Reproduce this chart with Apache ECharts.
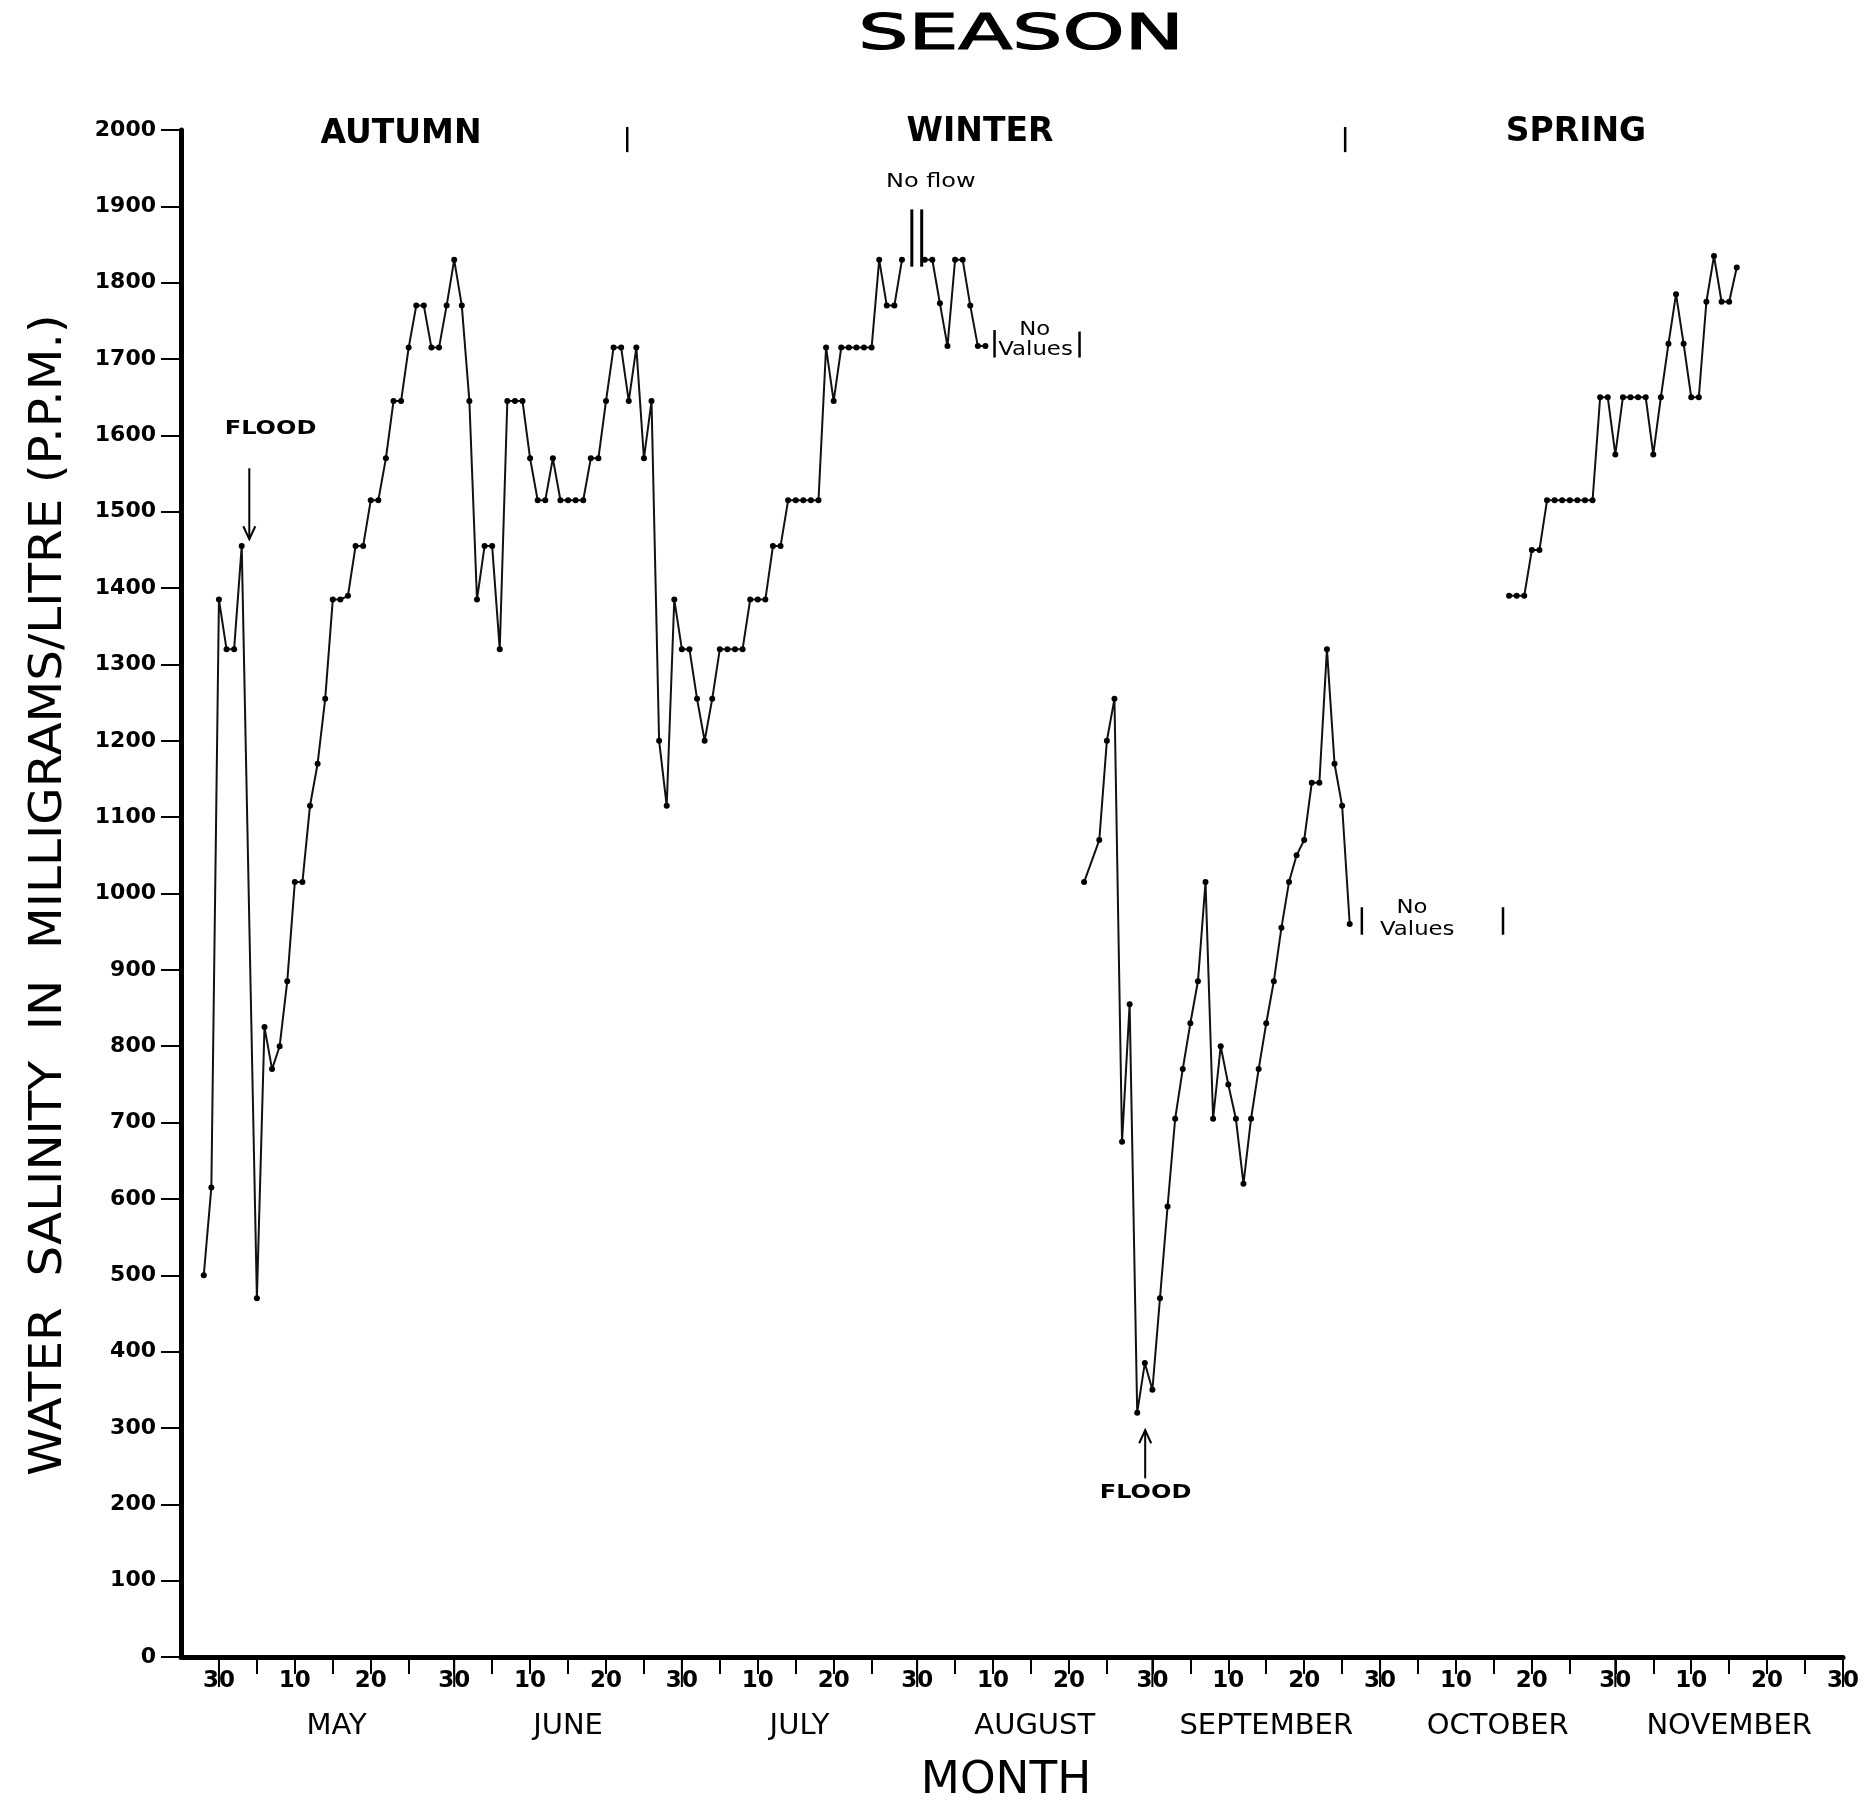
<!DOCTYPE html>
<html>
<head>
<meta charset="utf-8">
<script src="https://cdn.jsdelivr.net/npm/echarts@6/dist/echarts.min.js"></script>
<style>
html, body { margin: 0; padding: 0; background: #fff; }
#main { width: 1867px; height: 1805px; }
</style>
</head>
<body>
<div id="main"></div>
<script>
// x is counted in days after 30 April (day 0), axis runs 25 Apr .. 30 Nov
var monthEnds = [0, 31, 61, 92, 123, 153, 184, 214];
var monthNames = ['MAY', 'JUNE', 'JULY', 'AUGUST', 'SEPTEMBER', 'OCTOBER', 'NOVEMBER'];
var dayLabels = ['10', '20', '30'];

// daily readings (ppm), null = no reading that day
var autumnStart = -2;
var autumnPpm = [500, 615, 1385, 1320, 1320, 1455, null, 470, 825, 770, 800, 885,
    1015, 1015, 1115, 1170, 1255, 1385, 1385, 1390, 1455, 1455, 1515, 1515, 1570,
    1645, 1645, 1715, 1770, 1770, 1715, 1715, 1770, 1830, 1770, 1645, 1385, 1455,
    1455, 1320, 1645, 1645, 1645, 1570, 1515, 1515, 1570, 1515, 1515, 1515, 1515,
    1570, 1570, 1645, 1715, 1715, 1645, 1715, 1570, 1645, 1200, 1115, 1385, 1320,
    1320, 1255, 1200, 1255, 1320, 1320, 1320, 1320, 1385, 1385, 1385, 1455, 1455,
    1515, 1515, 1515, 1515, 1515, 1715, 1645, 1715, 1715, 1715, 1715, 1715, 1830,
    1770, 1770, 1830];
var augustStart = 93;
var augustPpm = [1830, 1830, 1773, 1717, 1830, 1830, 1770, 1717, 1717];
var septStart = 114;
var septPpm = [1015, null, 1070, 1200, 1255, 675, 855, 320, 385, 350, 470, 590,
    705, 770, 830, 885, 1015, 705, 800, 750, 705, 620, 705, 770, 830, 885, 955,
    1015, 1050, 1070, 1145, 1145, 1320, 1170, 1115, 960];
var springStart = 170;
var springPpm = [1390, 1390, 1390, 1450, 1450, 1515, 1515, 1515, 1515, 1515, 1515,
    1515, 1650, 1650, 1575, 1650, 1650, 1650, 1650, 1575, 1650, 1720, 1785, 1720,
    1650, 1650, 1775, 1835, 1775, 1775, 1820];

function toPoints(start, list) {
    var out = [];
    list.forEach(function (v, i) {
        if (v != null) out.push([start + i, v]);
    });
    return out;
}

// ticks every 5 days, long tick at each month end
var tickDays = [0];
var labelDays = [0];
var labelText = { '0': '{d|30}' };
for (var i = 0; i < monthNames.length; i++) {
    var s = monthEnds[i], e = monthEnds[i + 1];
    for (var k = 5; k <= 25; k += 5) tickDays.push(s + k);
    tickDays.push(e);
    labelDays.push(s + 10, s + 20, e);
    labelText[String(s + 10)] = '{d|' + dayLabels[0] + '}';
    labelText[String(s + 20)] = '{d|' + dayLabels[1] + '}';
    labelText[String(e)] = '{d|' + dayLabels[2] + '}';
    var mid = (s + e) / 2;
    labelDays.push(mid);
    labelText[String(mid)] = '{m|' + monthNames[i] + '}';
}

var font = '"DejaVu Sans", sans-serif';
var chart = echarts.init(document.getElementById('main'));

function lineSeries(name, pts) {
    return {
        name: name,
        type: 'line',
        data: pts,
        symbol: 'circle',
        symbolSize: 6,
        itemStyle: { color: '#000' },
        lineStyle: { color: '#111', width: 2 },
        emphasis: { disabled: true }
    };
}

chart.setOption({
    animation: false,
    backgroundColor: '#fff',
    grid: { left: 181, right: 24, top: 130, bottom: 148 },
    xAxis: {
        type: 'value', min: -5, max: 214,
        axisLine: { onZero: false, lineStyle: { color: '#000', width: 5 } },
        axisTick: { customValues: tickDays, length: 17, lineStyle: { color: '#000', width: 2 } },
        axisLabel: {
            customValues: labelDays,
            margin: 13,
            color: '#000',
            formatter: function (v) { return labelText[String(v)] || ''; },
            rich: {
                d: { fontSize: 23, fontWeight: 'bold', fontFamily: font, color: '#000' },
                m: { fontSize: 29, fontFamily: font, color: '#000', padding: [42, 0, 0, 0] }
            }
        },
        splitLine: { show: false }
    },
    yAxis: {
        type: 'value', min: 0, max: 2000, interval: 100,
        axisLine: { show: true, onZero: false, lineStyle: { color: '#000', width: 5 } },
        axisTick: { show: true, length: 20, lineStyle: { color: '#000', width: 2 } },
        axisLabel: {
            margin: 25, color: '#000', fontSize: 22, fontWeight: 'bold', fontFamily: font,
            formatter: function (v) { return String(v); }
        },
        splitLine: { show: false }
    },
    series: [
        lineSeries('autumn', toPoints(autumnStart, autumnPpm)),
        lineSeries('august', toPoints(augustStart, augustPpm)),
        lineSeries('september', toPoints(septStart, septPpm)),
        lineSeries('spring', toPoints(springStart, springPpm))
    ]
});

function px(d, v) { return chart.convertToPixel({ gridIndex: 0 }, [d, v]); }

function label(text, p, size, weight, sx, extra) {
    var el = {
        type: 'text', x: p[0], y: p[1], scaleX: sx || 1,
        style: {
            text: text, fill: '#000', fontSize: size, fontWeight: weight || 'normal',
            fontFamily: font, align: 'center', verticalAlign: 'middle'
        },
        z: 10
    };
    if (extra) for (var key in extra) el[key] = extra[key];
    return el;
}

function bar(d, v1, v2, w) {
    var a = px(d, v1), b = px(d, v2);
    return { type: 'line', shape: { x1: a[0], y1: a[1], x2: b[0], y2: b[1] },
        style: { stroke: '#000', lineWidth: w || 2 }, z: 10 };
}

function arrow(d, vTail, vHead) {
    var t = px(d, vTail), h = px(d, vHead);
    var dir = h[1] > t[1] ? -1 : 1;
    return [
        { type: 'line', shape: { x1: t[0], y1: t[1], x2: h[0], y2: h[1] },
          style: { stroke: '#000', lineWidth: 2 }, z: 10 },
        { type: 'polyline', shape: { points: [[h[0] - 6, h[1] + dir * 13], [h[0], h[1]], [h[0] + 6, h[1] + dir * 13]] },
          style: { stroke: '#000', lineWidth: 2, fill: null }, z: 10 }
    ];
}

var g = [];
// long ticks at month ends
monthEnds.forEach(function (m) {
    var p = px(m, 0);
    g.push({ type: 'line', shape: { x1: p[0], y1: p[1], x2: p[0], y2: p[1] + 30 },
        style: { stroke: '#000', lineWidth: 2 }, z: 10 });
});

var title = label('SEASON', [1021, 36], 50, 'normal', 1.58);
title.style.stroke = '#000';
title.style.lineWidth = 1.2;
g.push(title);
g.push(label('AUTUMN', [401, 134], 33, 'bold', 1));
g.push(label('WINTER', [980, 132], 33, 'bold', 1));
g.push(label('SPRING', [1576, 132], 33, 'bold', 1));
g.push(bar(53.8, 2004, 1971, 2.5));
g.push(bar(148.4, 2004, 1971, 2.5));
g.push(label('MONTH', [1006, 1782], 44, 'normal', 1.03));
g.push(label('WATER  SALINITY  IN  MILLIGRAMS/LITRE (P.P.M.)', [50, 895], 44, 'normal', 1.1,
    { rotation: Math.PI / 2 }));

// no flow
g.push(label('No flow', px(93.8, 1932), 20, 'normal', 1.2));
g.push(bar(91.3, 1821, 1896, 3));
g.push(bar(92.6, 1821, 1896, 3));
// no values (August)
g.push(label('No', px(107.5, 1738), 19, 'normal', 1.2));
g.push(label('Values', px(107.6, 1712), 19, 'normal', 1.2));
g.push(bar(102.2, 1738, 1702, 2.5));
g.push(bar(113.4, 1736, 1702, 2.5));
// no values (October)
g.push(label('No', px(157.2, 981), 19, 'normal', 1.2));
g.push(label('Values', px(157.9, 952), 19, 'normal', 1.2));
g.push(bar(150.6, 982, 946, 2.5));
g.push(bar(169.2, 982, 946, 2.5));
// floods
g.push(label('FLOOD', px(6.8, 1608), 20, 'bold', 1.2));
g = g.concat(arrow(4, 1557, 1464));
g.push(label('FLOOD', px(122.1, 215), 20, 'bold', 1.2));
g = g.concat(arrow(122.05, 234, 297));

chart.setOption({ graphic: g });
</script>
</body>
</html>
